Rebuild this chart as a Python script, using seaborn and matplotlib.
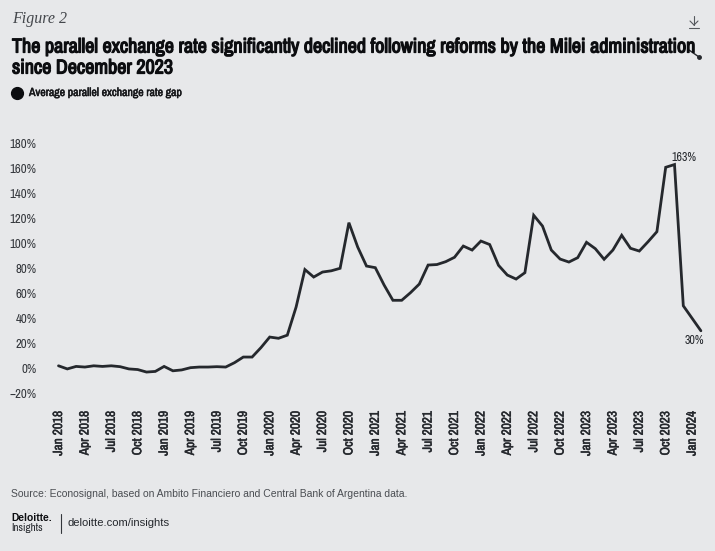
import matplotlib
matplotlib.use("Agg")
import matplotlib.pyplot as plt
from matplotlib.lines import Line2D
import matplotlib.patheffects as pe
import pandas as pd
import seaborn as sns

# monthly gap, Jan 2018 - Feb 2024
gap_values = [
    2, -0.5, 1.5, 1, 2, 1.5, 2, 1.3, -0.5, -1, -3, -2.5,
    1.5, -2, -1.3, 0.5, 1, 1, 1.3, 1, 4.5, 9, 9, 16.5,
    25, 24, 26.5, 49, 79, 73, 77, 78, 80, 116.5, 97, 81.8,
    80.5, 66.6, 54.4, 54.4, 60.5, 67.4, 82.6, 83, 85.3, 88.8, 97.8, 94.6,
    101.8, 99, 82.4, 74.6, 71.4, 76.5, 122.4, 113.8, 94.6, 87.4, 85, 88.5,
    100.8, 95.7, 87.2, 94.6, 106.4, 96, 93.8, 101.3, 109.3, 160.8, 163, 50,
    40, 30,
]
months = pd.date_range("2018-01-01", periods=len(gap_values), freq="MS")
y_ticks = [-20, 0, 20, 40, 60, 80, 100, 120, 140, 160, 180]
y_labels = ["\u221220%", "0%", "20%", "40%", "60%", "80%", "100%", "120%", "140%", "160%", "180%"]

BG = "#e7e8ea"
INK = "#25282d"
BLACK = "#0c0d10"
W, H = 715, 551
NARROW = ["Archivo Narrow", "Liberation Sans", "DejaVu Sans"]

sns.set_style("white")
plt.rcParams["font.family"] = NARROW

df = pd.DataFrame({"idx": range(len(months)), "gap": gap_values, "month": months})

fig = plt.figure(figsize=(W / 100, H / 100), dpi=100, facecolor=BG)

# axes placed in pixels so it lines up with the original
left, right, top, bottom = 45, 712, 135, 400
ax = fig.add_axes([left / W, 1 - bottom / H, (right - left) / W, (bottom - top) / H], facecolor=BG)
sns.lineplot(data=df, x="idx", y="gap", ax=ax, color=INK, linewidth=2.0, legend=False,
             solid_joinstyle="miter", errorbar=None)

ax.set_xlim((left - 58.5) / 8.8, (right - 58.5) / 8.8)
ax.set_ylim((368.3 - bottom) / 1.25, (368.3 - top) / 1.25)
ax.set_xlabel("")
ax.set_ylabel("")
sns.despine(ax=ax, left=True, bottom=True, top=True, right=True)

tick_idx = list(df["idx"][::3])
ax.set_xticks(tick_idx)
ax.set_xticklabels([months[i].strftime("%b %Y") for i in tick_idx], rotation=90,
                   fontsize=9.6, fontweight="bold", color=INK,
                   path_effects=[pe.withStroke(linewidth=0.35, foreground=INK)])
ax.set_yticks(y_ticks)
ax.set_yticklabels(y_labels, fontsize=9.2, color="#33363b")
ax.tick_params(axis="x", length=0, pad=8)
ax.tick_params(axis="y", length=0, pad=6)

ax.annotate("163%", (70, 163), xytext=(-2, 1), textcoords="offset points", fontsize=8.6,
            color=INK, va="bottom", ha="left")
ax.annotate("30%", (73, 30), xytext=(2, -3), textcoords="offset points", fontsize=8.6,
            color=INK, va="top", ha="right")


def put(x, y, s, **kw):
    fig.text(x / W, 1 - y / H, s, **kw)


put(12, 19, "Figure 2", family="Liberation Serif", style="italic", fontsize=11.5, color="#44474c", va="center")
heavy = [pe.withStroke(linewidth=0.9, foreground=BLACK)]
put(12, 47, "The parallel exchange rate significantly declined following reforms by the Milei administration",
    fontsize=14.45, fontweight="bold", color=BLACK, va="center", path_effects=heavy)
put(12, 68, "since December 2023", fontsize=14.45, fontweight="bold", color=BLACK, va="center", path_effects=heavy)

fig.add_artist(Line2D([17 / W], [1 - 93 / H], marker="o", markersize=8.5, color=BLACK, linestyle="none"))
put(29, 93, "Average parallel exchange rate gap", fontsize=8.5, fontweight="bold", color="#16171a", va="center",
    path_effects=[pe.withStroke(linewidth=0.35, foreground="#16171a")])

put(11, 494, "Source: Econosignal, based on Ambito Financiero and Central Bank of Argentina data.",
    family="Liberation Sans", fontsize=7.45, color="#4a4d52", va="center")
put(11, 518, "Deloitte.", family="Liberation Sans", fontweight="bold", fontsize=7.4, color=BLACK, va="center")
put(11, 528, "Insights", fontsize=8, color=INK, va="center")
fig.add_artist(Line2D([61 / W, 61 / W], [1 - 514 / H, 1 - 533 / H], color="#33363b", linewidth=0.8))
put(68, 523, "deloitte.com/insights", family="Liberation Sans", fontsize=8.1, color=INK, va="center")


def seg(x0, y0, x1, y1, lw=0.8, color="#55585d"):
    fig.add_artist(Line2D([x0 / W, x1 / W], [1 - y0 / H, 1 - y1 / H], color=color, linewidth=lw))


# download icon and the stray share mark
seg(694, 16, 694, 25)
seg(690, 21, 694, 25)
seg(698, 21, 694, 25)
seg(689, 28, 699, 28)
seg(689, 50, 699, 57, lw=1.0, color=INK)
fig.add_artist(Line2D([699 / W], [1 - 57 / H], marker="o", markersize=2.5, color=INK, linestyle="none"))

fig.savefig("out.png", dpi=100, facecolor=BG)
